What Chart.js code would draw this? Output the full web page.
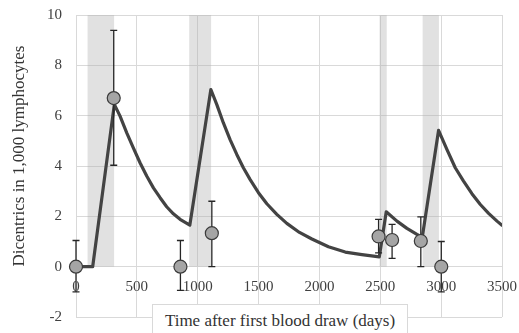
<!DOCTYPE html>
<html>
<head>
<meta charset="utf-8">
<script src="https://cdn.jsdelivr.net/npm/chart.js@4.4.0/dist/chart.umd.min.js"></script>
<style>
  html, body { margin: 0; padding: 0; background: #fff; }
  #wrap { position: relative; width: 519px; height: 333px; overflow: hidden; }
  #chart { position: absolute; left: 0; top: 0; }
  .serif { font-family: 'Liberation Serif', 'Times New Roman', Times, serif; color: #333; }
  #ytitle {
    position: absolute; left: -131px; top: 146px; width: 300px; height: 20px;
    line-height: 20px; font-size: 17px; text-align: center;
    transform: rotate(-90deg);
  }
  #xtitle {
    position: absolute; left: 152px; top: 304px; width: 256px; height: 40px;
    box-sizing: border-box; border: 1px solid #d9d9d9; background: #fff;
    padding-top: 7px; line-height: 17px; font-size: 17px; text-align: center;
  }
</style>
</head>
<body>
<div id="wrap">
  <canvas id="chart" width="519" height="333"></canvas>
  <div id="ytitle" class="serif">Dicentrics in 1,000 lymphocytes</div>
  <div id="xtitle" class="serif">Time after first blood draw (days)</div>
</div>
<script>
// model curve (days, dicentrics)
var curveX = [0, 137, 315, 362, 417, 471, 526, 581, 636, 691, 745, 800, 855, 935,
  1108, 1157, 1211, 1266, 1321, 1375, 1431, 1499, 1568, 1650, 1732, 1836, 1938, 2074, 2212, 2349, 2492,
  2549, 2637, 2719, 2801, 2845,
  2979, 3048, 3116, 3184, 3253, 3322, 3390, 3459, 3500];
var curveY = [0, 0, 6.45, 5.98, 5.32, 4.72, 4.13, 3.60, 3.13, 2.74, 2.38, 2.10, 1.88, 1.65,
  7.04, 6.44, 5.71, 5.05, 4.46, 3.93, 3.46, 2.94, 2.50, 2.08, 1.72, 1.36, 1.10, 0.79, 0.58, 0.48, 0.39,
  2.18, 1.81, 1.52, 1.28, 1.17,
  5.42, 4.65, 3.93, 3.40, 2.90, 2.47, 2.12, 1.81, 1.64];

// measured blood draws with error bars
var drawDays = [0, 310, 858, 1116, 2486, 2597, 2833, 3001];
var drawValues = [0, 6.7, 0, 1.33, 1.2, 1.06, 1.02, 0];
var errHigh = [1.04, 9.39, 1.04, 2.6, 1.88, 1.68, 1.98, 1.0];
var errLow = [-1.0, 4.03, -0.94, 0, 0.55, 0.33, 0, -1.0];

// exposure periods (shaded)
var bandStart = [95, 930, 2494, 2848];
var bandEnd = [313, 1110, 2553, 2982];

var bandTop = 10;
var bandBottom = 0;

var serif = "'Liberation Serif', 'Times New Roman', Times, serif";
var gridColor = '#d9d9d9';

var bandsPlugin = {
  id: 'bands',
  beforeDatasetsDraw: function (chart) {
    var ctx = chart.ctx;
    var xs = chart.scales.x, ys = chart.scales.y;
    var yTop = ys.getPixelForValue(bandTop);
    var yBot = ys.getPixelForValue(bandBottom);
    ctx.save();
    ctx.fillStyle = 'rgba(175,175,175,0.38)';
    for (var i = 0; i < bandStart.length; i++) {
      var x0 = xs.getPixelForValue(bandStart[i]);
      var x1 = xs.getPixelForValue(bandEnd[i]);
      ctx.fillRect(x0, yTop, x1 - x0, yBot - yTop);
    }
    ctx.restore();
  }
};

// error bars go under the markers
var errorBarsPlugin = {
  id: 'errorBars',
  beforeDatasetDraw: function (chart, args) {
    if (args.index !== 1) return;
    var ctx = chart.ctx;
    var xs = chart.scales.x, ys = chart.scales.y;
    ctx.save();
    ctx.strokeStyle = '#262626';
    ctx.lineWidth = 1.3;
    for (var i = 0; i < drawDays.length; i++) {
      var x = xs.getPixelForValue(drawDays[i]);
      var yh = ys.getPixelForValue(errHigh[i]);
      var yl = ys.getPixelForValue(errLow[i]);
      ctx.beginPath();
      ctx.moveTo(x, yh); ctx.lineTo(x, yl);
      ctx.moveTo(x - 3.5, yh); ctx.lineTo(x + 3.5, yh);
      ctx.moveTo(x - 3.5, yl); ctx.lineTo(x + 3.5, yl);
      ctx.stroke();
    }
    ctx.restore();
  }
};

function toPoints(xs, ys) {
  return xs.map(function (x, i) { return { x: x, y: ys[i] }; });
}

var ctx = document.getElementById('chart').getContext('2d');
var chart = new Chart(ctx, {
  type: 'scatter',
  data: {
    datasets: [
      {
        type: 'line',
        data: toPoints(curveX, curveY),
        borderColor: '#434343',
        borderWidth: 3.2,
        borderJoinStyle: 'round',
        borderCapStyle: 'round',
        pointRadius: 0,
        fill: false,
        tension: 0,
        order: 2
      },
      {
        data: toPoints(drawDays, drawValues),
        showLine: false,
        pointRadius: 6.5,
        pointBackgroundColor: '#a5a5a5',
        pointBorderColor: '#3a3a3a',
        pointBorderWidth: 1.2,
        clip: false,
        order: 1
      }
    ]
  },
  options: {
    responsive: false,
    animation: false,
    layout: { padding: { top: 15, right: 17, bottom: 16, left: 0 } },
    plugins: { legend: { display: false }, tooltip: { enabled: false } },
    scales: {
      x: {
        type: 'linear',
        position: { y: 0 },
        min: 0, max: 3500,
        afterFit: function (scale) { scale.height = 0; },
        // invisible tick marks just push the labels down
        grid: { color: gridColor, tickLength: 11, tickColor: 'rgba(0,0,0,0)' },
        border: { display: false },
        ticks: {
          stepSize: 500,
          padding: 0,
          color: '#404040',
          font: { family: serif, size: 15 },
          callback: function (v) { return String(v); }
        }
      },
      y: {
        position: 'left',
        min: -2, max: 10,
        afterFit: function (scale) { scale.width = 76; },
        grid: { color: gridColor, tickLength: 14, tickColor: 'rgba(0,0,0,0)' },
        border: { color: gridColor },
        ticks: {
          stepSize: 2,
          padding: 0,
          color: '#404040',
          font: { family: serif, size: 15 },
          callback: function (v) { return String(v); }
        }
      }
    }
  },
  plugins: [bandsPlugin, errorBarsPlugin]
});
</script>
</body>
</html>
